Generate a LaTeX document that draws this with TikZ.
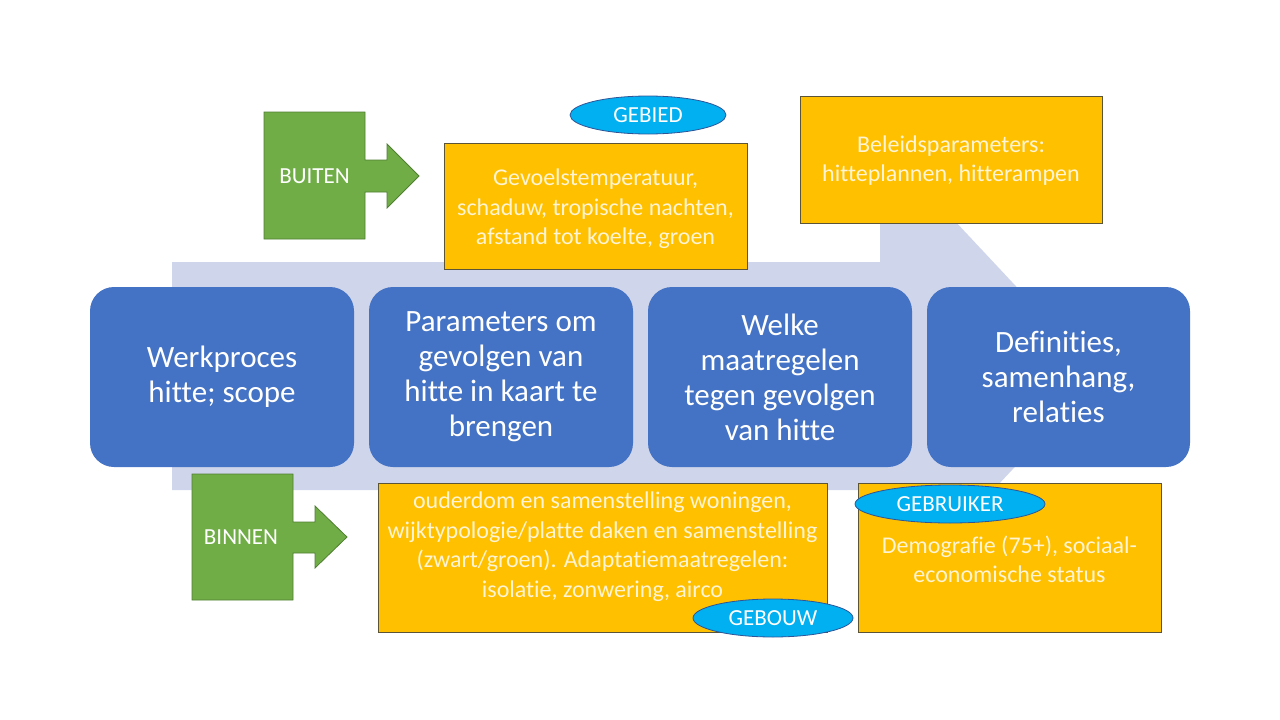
\documentclass[tikz,border=0pt]{standalone}
\usepackage{fontspec}
\setmainfont{Carlito}[Ligatures={NoCommon,NoContextual},Contextuals=NoAlternate,RawFeature=-calt]
\usetikzlibrary{shapes.geometric}
\definecolor{flowback}{HTML}{CFD5EA}
\definecolor{stepblue}{HTML}{4472C4}
\definecolor{paramfill}{HTML}{FFC000}
\definecolor{paramline}{HTML}{5B5436}
\definecolor{paramink}{HTML}{FFF4D4}
\definecolor{tagfill}{HTML}{00B0F0}
\definecolor{tagline}{HTML}{2F5597}
\definecolor{sidefill}{HTML}{70AD47}
\definecolor{sideline}{HTML}{507E32}
\begin{document}
\begin{tikzpicture}[x=1pt,y=-1pt,
  stepbox/.style={fill=stepblue,rounded corners=24pt,minimum width=264pt,minimum height=180pt,
    inner sep=0pt,text=white,align=center,font=\fontsize{31}{35}\selectfont},
  parambox/.style={draw=paramline,line width=0.8pt,fill=paramfill,inner sep=0pt},
  paramtext/.style={text=paramink,align=center,inner sep=0pt,font=\fontsize{24}{29.5}\selectfont},
  tagoval/.style={ellipse,draw=tagline,fill=tagfill,line width=0.8pt,inner sep=0pt,
    minimum height=38pt,text=white,font=\fontsize{23}{26}\selectfont},
  sidearrow/.style={draw=sideline,fill=sidefill,line width=0.8pt},
  sidetext/.style={text=white,font=\fontsize{23}{26}\selectfont}]
\useasboundingbox (0,0) rectangle (1280,720);

\fill[flowback] (172,262) -- (880,262) -- (880,141) -- (1100,376) -- (880,611) -- (880,490) -- (172,490) -- cycle;% big arrow

\node[stepbox] (werk) at (222,377) {Werkproces\\hitte; scope};
\node[stepbox] (param) at (501,377) {Parameters om\\gevolgen van\\hitte in kaart te\\brengen};
\node[stepbox] (maatr) at (780,377) {Welke\\maatregelen\\tegen gevolgen\\van hitte};
\node[stepbox,minimum width=263pt] (defin) at (1058.5,377) {Definities,\\samenhang,\\relaties};

\node[parambox,minimum width=303pt,minimum height=126pt] (gevoel) at (595.5,206) {};
\node[paramtext] (gevoeltxt) at ([yshift=-3pt]gevoel.center) {Gevoelstemperatuur,\\schaduw, tropische nachten,\\afstand tot koelte, groen};
\node[parambox,minimum width=302pt,minimum height=127pt] (beleid) at (951,159.5) {};
\node[paramtext] (beleidtxt) at ([yshift=-1pt]beleid.center) {Beleidsparameters:\\hitteplannen, hitterampen};
\node[parambox,minimum width=449pt,minimum height=149pt] (ouder) at (602.5,557.5) {};
\node[paramtext] (oudertxt) at ([yshift=11pt]ouder.center) {ouderdom en samenstelling woningen,\\wijktypologie/platte daken en samenstelling\\(zwart/groen). Adaptatiemaatregelen:\\isolatie, zonwering, airco};
\node[parambox,minimum width=303pt,minimum height=149pt] (demo) at (1009.5,557.5) {};
\node[paramtext] (demotxt) at ([yshift=-2pt]demo.center) {Demografie (75+), sociaal-\\economische status};

\node[tagoval,minimum width=156pt] (gebied) at (648,115) {GEBIED};
\node[tagoval,minimum width=160pt] (gebouw) at (773,618) {GEBOUW};
\node[tagoval,minimum width=190pt] (gebruiker) at (950,504) {GEBRUIKER};

\draw[sidearrow] (264,112) -- (365,112) -- (365,160) -- (387,160) -- (387,144) -- (419,176)
  -- (387,208) -- (387,192) -- (365,192) -- (365,239) -- (264,239) -- cycle;% outside
\node[sidetext] (buiten) at (314.5,176) {BUITEN};
\draw[sidearrow] (192,474) -- (293,474) -- (293,522) -- (315,522) -- (315,506) -- (347,537)
  -- (315,568) -- (315,553) -- (293,553) -- (293,600) -- (192,600) -- cycle;% inside
\node[sidetext] (binnen) at (241,537) {BINNEN};
\end{tikzpicture}
\end{document}
